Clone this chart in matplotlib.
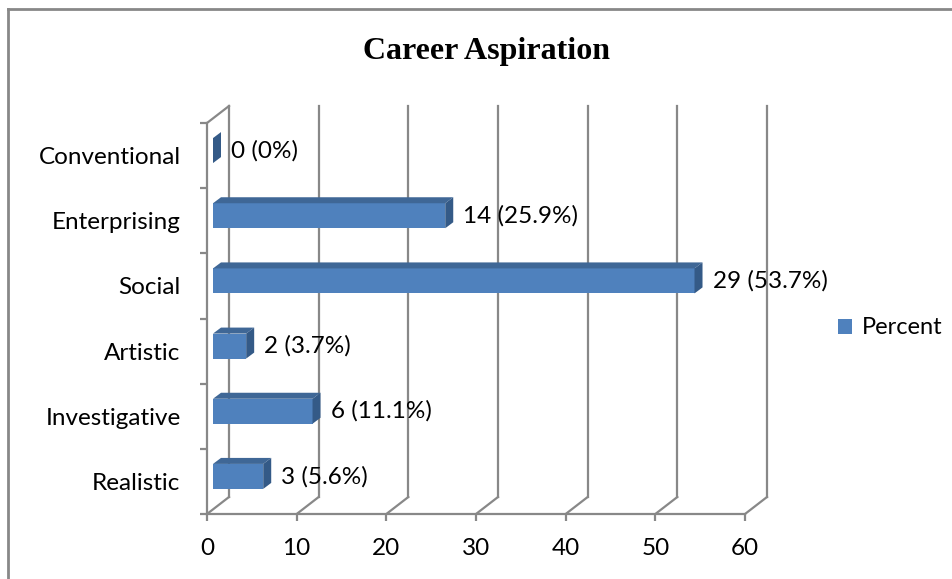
import matplotlib.pyplot as plt
from matplotlib.patches import Polygon, Patch
from matplotlib.lines import Line2D

# ---- data ----
categories = ["Realistic", "Investigative", "Artistic", "Social", "Enterprising", "Conventional"]
counts = [3, 6, 2, 29, 14, 0]
percent = [5.6, 11.1, 3.7, 53.7, 25.9, 0.0]
xticks = [0, 10, 20, 30, 40, 50, 60]

# ---- style ----
FRONT = "#4F81BD"
TOP = "#3F6796"
SIDE = "#345A87"
GRID = "#888888"
FONT = "Lato"
FS = 17.5

W, H, DPI = 952, 579, 100
fig = plt.figure(figsize=(W / DPI, H / DPI), dpi=DPI)

# front plane of the 3d box, in pixels
x0, x1 = 207, 745
ytop, ybot = 123, 514
ax = fig.add_axes([x0 / W, (H - ybot) / H, (x1 - x0) / W, (ybot - ytop) / H])
ax.set_xlim(0, 60)
ax.set_ylim(-0.5, len(categories) - 0.5)

ppx = (x1 - x0) / 60.0
ppy = (ybot - ytop) / float(len(categories))


def px(dx, dy):
    # pixel offset -> data units
    return dx / ppx, dy / ppy


# depth of the box and of the bars
DX, DY = px(22, 17)
BX, BY = px(6, 5)      # front face of bars sits a bit inside
SX, SY = px(8, 6)      # bar thickness in depth
HALF = 12.5 / ppy
LX, LY = px(24, 5)     # data label offset

ylo, yhi = -0.5, len(categories) - 0.5

# back wall gridlines + floor diagonals
for v in xticks:
    ax.add_line(Line2D([v + DX, v + DX], [ylo + DY, yhi + DY], color=GRID, lw=1.6,
                       clip_on=False, zorder=1))
    ax.add_line(Line2D([v, v + DX], [ylo, ylo + DY], color=GRID, lw=1.6,
                       clip_on=False, zorder=1))
# top edge of the left wall
ax.add_line(Line2D([0, DX], [yhi, yhi + DY], color=GRID, lw=1.6, clip_on=False, zorder=1))

# bars
for i, (c, p) in enumerate(zip(counts, percent)):
    xa = BX
    xb = p + BX
    ya = i - HALF + BY
    yb = i + HALF + BY
    if p > 0:
        ax.add_patch(Polygon([(xa, ya), (xb, ya), (xb, yb), (xa, yb)], closed=True,
                             facecolor=FRONT, edgecolor="none", clip_on=False, zorder=3))
        ax.add_patch(Polygon([(xa, yb), (xb, yb), (xb + SX, yb + SY), (xa + SX, yb + SY)],
                             closed=True, facecolor=TOP, edgecolor="none", clip_on=False, zorder=3))
    ax.add_patch(Polygon([(xb, ya), (xb + SX, ya + SY), (xb + SX, yb + SY), (xb, yb)],
                         closed=True, facecolor=SIDE, edgecolor="none", clip_on=False, zorder=3))
    ax.text(p + LX, i + LY, "%d (%g%%)" % (c, p), ha="left", va="center",
            fontsize=FS, family=FONT, color="black", zorder=4)

# axes styling
for s in ["top", "right"]:
    ax.spines[s].set_visible(False)
for s in ["left", "bottom"]:
    ax.spines[s].set_color(GRID)
    ax.spines[s].set_linewidth(1.6)
ax.set_facecolor("none")

ax.set_xticks(xticks)
ax.set_xticklabels([str(t) for t in xticks], fontsize=FS, family=FONT)
ax.tick_params(axis="x", length=5, width=1.6, color=GRID, pad=12)

ax.set_yticks(range(len(categories)))
ax.set_yticklabels(categories, fontsize=FS, family=FONT)
ax.set_yticks([k - 0.5 for k in range(len(categories) + 1)], minor=True)
ax.tick_params(axis="y", which="major", length=0, pad=19)
ax.tick_params(axis="y", which="minor", length=5, width=1.6, color=GRID)

# title
fig.text(487 / W, 1 - 52 / H, "Career Aspiration", ha="center", va="center",
         fontsize=23, fontweight="bold", family="Liberation Serif")

# legend
fig.legend(handles=[Patch(facecolor=FRONT, edgecolor="none")], labels=["Percent"],
           loc="center left", bbox_to_anchor=(838 / W, 1 - 328 / H), frameon=False,
           handlelength=0.6, handleheight=0.6, handletextpad=0.4, borderpad=0,
           borderaxespad=0, prop={"family": FONT, "size": 17})

# outer chart border (left and top visible)
fig.add_artist(Line2D([8 / W, 8 / W], [0, 1 - 9 / H], color="#888888", lw=2,
                      transform=fig.transFigure))
fig.add_artist(Line2D([8 / W, 1], [1 - 9 / H, 1 - 9 / H], color="#888888", lw=2,
                      transform=fig.transFigure))

fig.savefig("out.png", dpi=DPI, facecolor="white")
